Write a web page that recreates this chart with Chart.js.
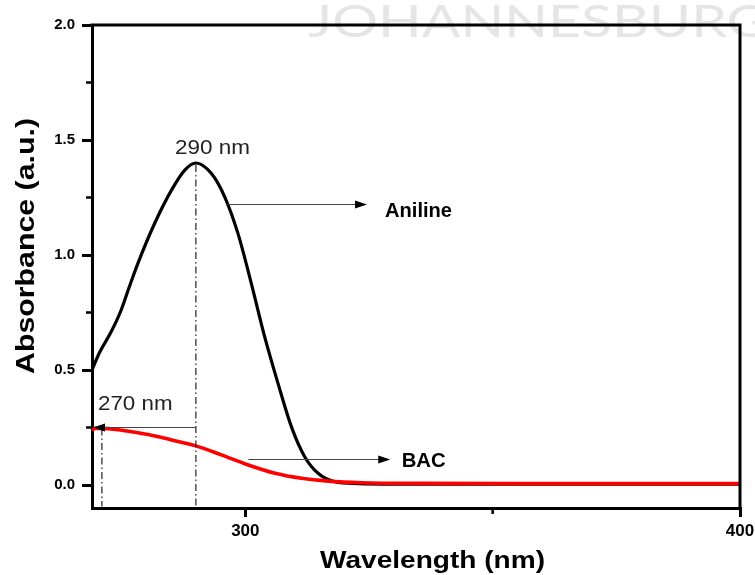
<!DOCTYPE html>
<html>
<head>
<meta charset="utf-8">
<script src="https://cdn.jsdelivr.net/npm/chart.js@4.4.1/dist/chart.umd.min.js"></script>
<style>
html,body{margin:0;padding:0;background:#fff;}
#wrap{width:755px;height:575px;}
</style>
</head>
<body>
<div id="wrap"><canvas id="c" width="755" height="575"></canvas></div>
<script>
// ---- data ----
const anilineNm  = [269, 270.5, 272.9, 274.9, 276.6, 278.3, 281.7, 285.1, 287.8, 290, 293.1, 295.8, 298.5, 301.2, 303.9, 306.6, 309.3, 312.0, 314.7, 318.1, 322.8, 330, 360, 400];
const anilineAbs = [0.50, 0.575, 0.667, 0.761, 0.865, 0.965, 1.139, 1.283, 1.37, 1.40, 1.355, 1.254, 1.094, 0.877, 0.645, 0.442, 0.254, 0.123, 0.051, 0.014, 0.006, 0.004, 0.004, 0.004];
const bacNm  = [269, 269.6, 271, 275, 278.3, 282, 285.1, 290, 295.3, 300.6, 306.0, 311.4, 316.8, 323.5, 335, 360, 400];
const bacAbs = [0.238, 0.246, 0.246, 0.238, 0.227, 0.212, 0.196, 0.170, 0.130, 0.087, 0.051, 0.029, 0.017, 0.010, 0.007, 0.006, 0.006];
const xTicks = [300, 400];
const xMinorTicks = [350];
const yTicks = [0.0, 0.5, 1.0, 1.5, 2.0];
const yMinorTicks = [0.25, 0.75, 1.25, 1.75];

// ---- annotations (data units) ----
const peakMark = {nm: 290, abs: 1.40};
const bacMark = {nm: 271, abs: 0.254};
const anilineArrow = {from: [296.4, 1.22], to: [324.6, 1.22]};
const bacArrow = {from: [300.6, 0.112], to: [329.3, 0.112]};

const toXY = (xs, ys) => xs.map((x, i) => ({x: x, y: ys[i]}));

function txt(ctx, s, font, x, y, w, color, rot) {
  ctx.save();
  ctx.font = font;
  ctx.fillStyle = color || '#000';
  ctx.textBaseline = 'alphabetic';
  ctx.textAlign = 'left';
  const m = ctx.measureText(s).width;
  ctx.translate(x, y);
  if (rot) ctx.rotate(rot);
  ctx.scale(w / m, 1);
  ctx.fillText(s, 0, 0);
  ctx.restore();
}
function arrowHead(ctx, x, y, dir) {
  ctx.beginPath();
  ctx.moveTo(x, y);
  ctx.lineTo(x - dir * 12, y - 4);
  ctx.lineTo(x - dir * 12, y + 4);
  ctx.closePath();
  ctx.fill();
}

const deco = {
  id: 'deco',
  beforeDraw(chart) {
    const ctx = chart.ctx;
    ctx.save();
    ctx.fillStyle = '#fff';
    ctx.fillRect(0, 0, chart.width, chart.height);
    // watermark
    ctx.font = '400 44px Lato';
    const wm = ctx.measureText('JOHANNESBUR').width;
    ctx.fillStyle = '#e5e5e5';
    ctx.translate(308, 36.5);
    ctx.scale(419 / wm, 1);
    ctx.fillText('JOHANNESBURG', 0, 0);
    ctx.restore();
  },
  afterDraw(chart) {
    const ctx = chart.ctx, a = chart.chartArea;
    const xs = chart.scales.x, ys = chart.scales.y;
    const px = v => xs.getPixelForValue(v), py = v => ys.getPixelForValue(v);
    ctx.save();
    // frame top/right
    ctx.strokeStyle = '#000';
    ctx.lineWidth = 3;
    ctx.beginPath();
    ctx.moveTo(a.left - 1.5, a.top);
    ctx.lineTo(a.right, a.top);
    ctx.lineTo(a.right, a.bottom + 1.5);
    ctx.stroke();
    // minor ticks
    ctx.lineWidth = 2.5;
    ctx.beginPath();
    xMinorTicks.forEach(v => { ctx.moveTo(px(v), a.bottom); ctx.lineTo(px(v), a.bottom + 6); });
    yMinorTicks.forEach(v => { ctx.moveTo(a.left, py(v)); ctx.lineTo(a.left - 6, py(v)); });
    ctx.stroke();
    // dash-dot guides
    ctx.strokeStyle = '#222';
    ctx.lineWidth = 1.2;
    ctx.setLineDash([7, 3, 1.5, 3]);
    ctx.beginPath();
    ctx.moveTo(px(peakMark.nm), py(peakMark.abs) + 2);
    ctx.lineTo(px(peakMark.nm), a.bottom - 1.5);
    ctx.moveTo(px(bacMark.nm), py(bacMark.abs) + 2);
    ctx.lineTo(px(bacMark.nm), a.bottom - 1.5);
    ctx.stroke();
    ctx.setLineDash([]);
    // arrows
    ctx.strokeStyle = '#444';
    ctx.fillStyle = '#000';
    ctx.lineWidth = 1.2;
    const hline = (x1, x2, y) => { ctx.beginPath(); ctx.moveTo(x1, y); ctx.lineTo(x2, y); ctx.stroke(); };
    let y1 = Math.round(py(anilineArrow.from[1])) + 0.5;
    hline(px(anilineArrow.from[0]), px(anilineArrow.to[0]) - 8, y1);
    arrowHead(ctx, px(anilineArrow.to[0]), y1, 1);
    let y2 = Math.round(py(bacArrow.from[1])) + 0.5;
    hline(px(bacArrow.from[0]), px(bacArrow.to[0]) - 8, y2);
    arrowHead(ctx, px(bacArrow.to[0]), y2, 1);
    let y3 = Math.round(py(bacMark.abs)) + 0.5;
    hline(px(peakMark.nm), a.left + 8, y3);
    arrowHead(ctx, a.left + 1, y3, -1);
    ctx.restore();
    // texts
    txt(ctx, '290 nm', '21px "Liberation Sans", Arial, sans-serif', 175, 153.5, 75, '#222');
    txt(ctx, '270 nm', '21px "Liberation Sans", Arial, sans-serif', 98, 410, 74.5, '#222');
    txt(ctx, 'Aniline', 'bold 20px "Liberation Sans", Arial, sans-serif', 385, 216.7, 67, '#000');
    txt(ctx, 'BAC', 'bold 20px "Liberation Sans", Arial, sans-serif', 401.7, 466.7, 44, '#000');
    txt(ctx, 'Wavelength (nm)', 'bold 23px "Liberation Sans", Arial, sans-serif', 320, 568, 225, '#000');
    txt(ctx, 'Absorbance (a.u.)', 'bold 26px "Liberation Sans", Arial, sans-serif', 34, 374, 256, '#000', -Math.PI / 2);
  }
};

new Chart(document.getElementById('c'), {
  type: 'scatter',
  data: {
    datasets: [
      {label: 'BAC', data: toXY(bacNm, bacAbs), showLine: true, borderColor: '#ff0000', borderWidth: 3.6,
       pointRadius: 0, cubicInterpolationMode: 'monotone', fill: false},
      {label: 'Aniline', data: toXY(anilineNm, anilineAbs), showLine: true, borderColor: '#000', borderWidth: 3.2,
       pointRadius: 0, cubicInterpolationMode: 'monotone', fill: false}
    ]
  },
  options: {
    responsive: false,
    animation: false,
    events: [],
    layout: {padding: {left: 0, top: 25, right: 15, bottom: 0}},
    plugins: {legend: {display: false}, tooltip: {enabled: false}, title: {display: false}},
    scales: {
      x: {
        type: 'linear', min: 269, max: 400,
        afterBuildTicks: s => { s.ticks = xTicks.map(v => ({value: v})); },
        afterFit: s => { s.height = 67; s.paddingRight = 0; s.paddingLeft = 0; },
        ticks: {color: '#000', padding: 4, maxRotation: 0, autoSkip: false,
                font: {family: '"Liberation Sans", Arial, sans-serif', weight: 'bold', size: 17}},
        grid: {drawOnChartArea: false, drawTicks: true, tickLength: 9, color: '#000', tickColor: '#000', tickWidth: 3, lineWidth: 3},
        border: {display: true, color: '#000', width: 3}
      },
      y: {
        type: 'linear', min: -0.1, max: 2.0,
        afterBuildTicks: s => { s.ticks = yTicks.map(v => ({value: v})); },
        afterFit: s => { s.width = 92; s.paddingTop = 0; s.paddingBottom = 0; },
        ticks: {color: '#000', padding: 7, callback: v => v.toFixed(1),
                font: {family: '"Liberation Sans", Arial, sans-serif', weight: 'bold', size: 15}},
        grid: {drawOnChartArea: false, drawTicks: true, tickLength: 10, color: '#000', tickColor: '#000', tickWidth: 3, lineWidth: 3},
        border: {display: true, color: '#000', width: 3}
      }
    }
  },
  plugins: [deco]
});
</script>
</body>
</html>
